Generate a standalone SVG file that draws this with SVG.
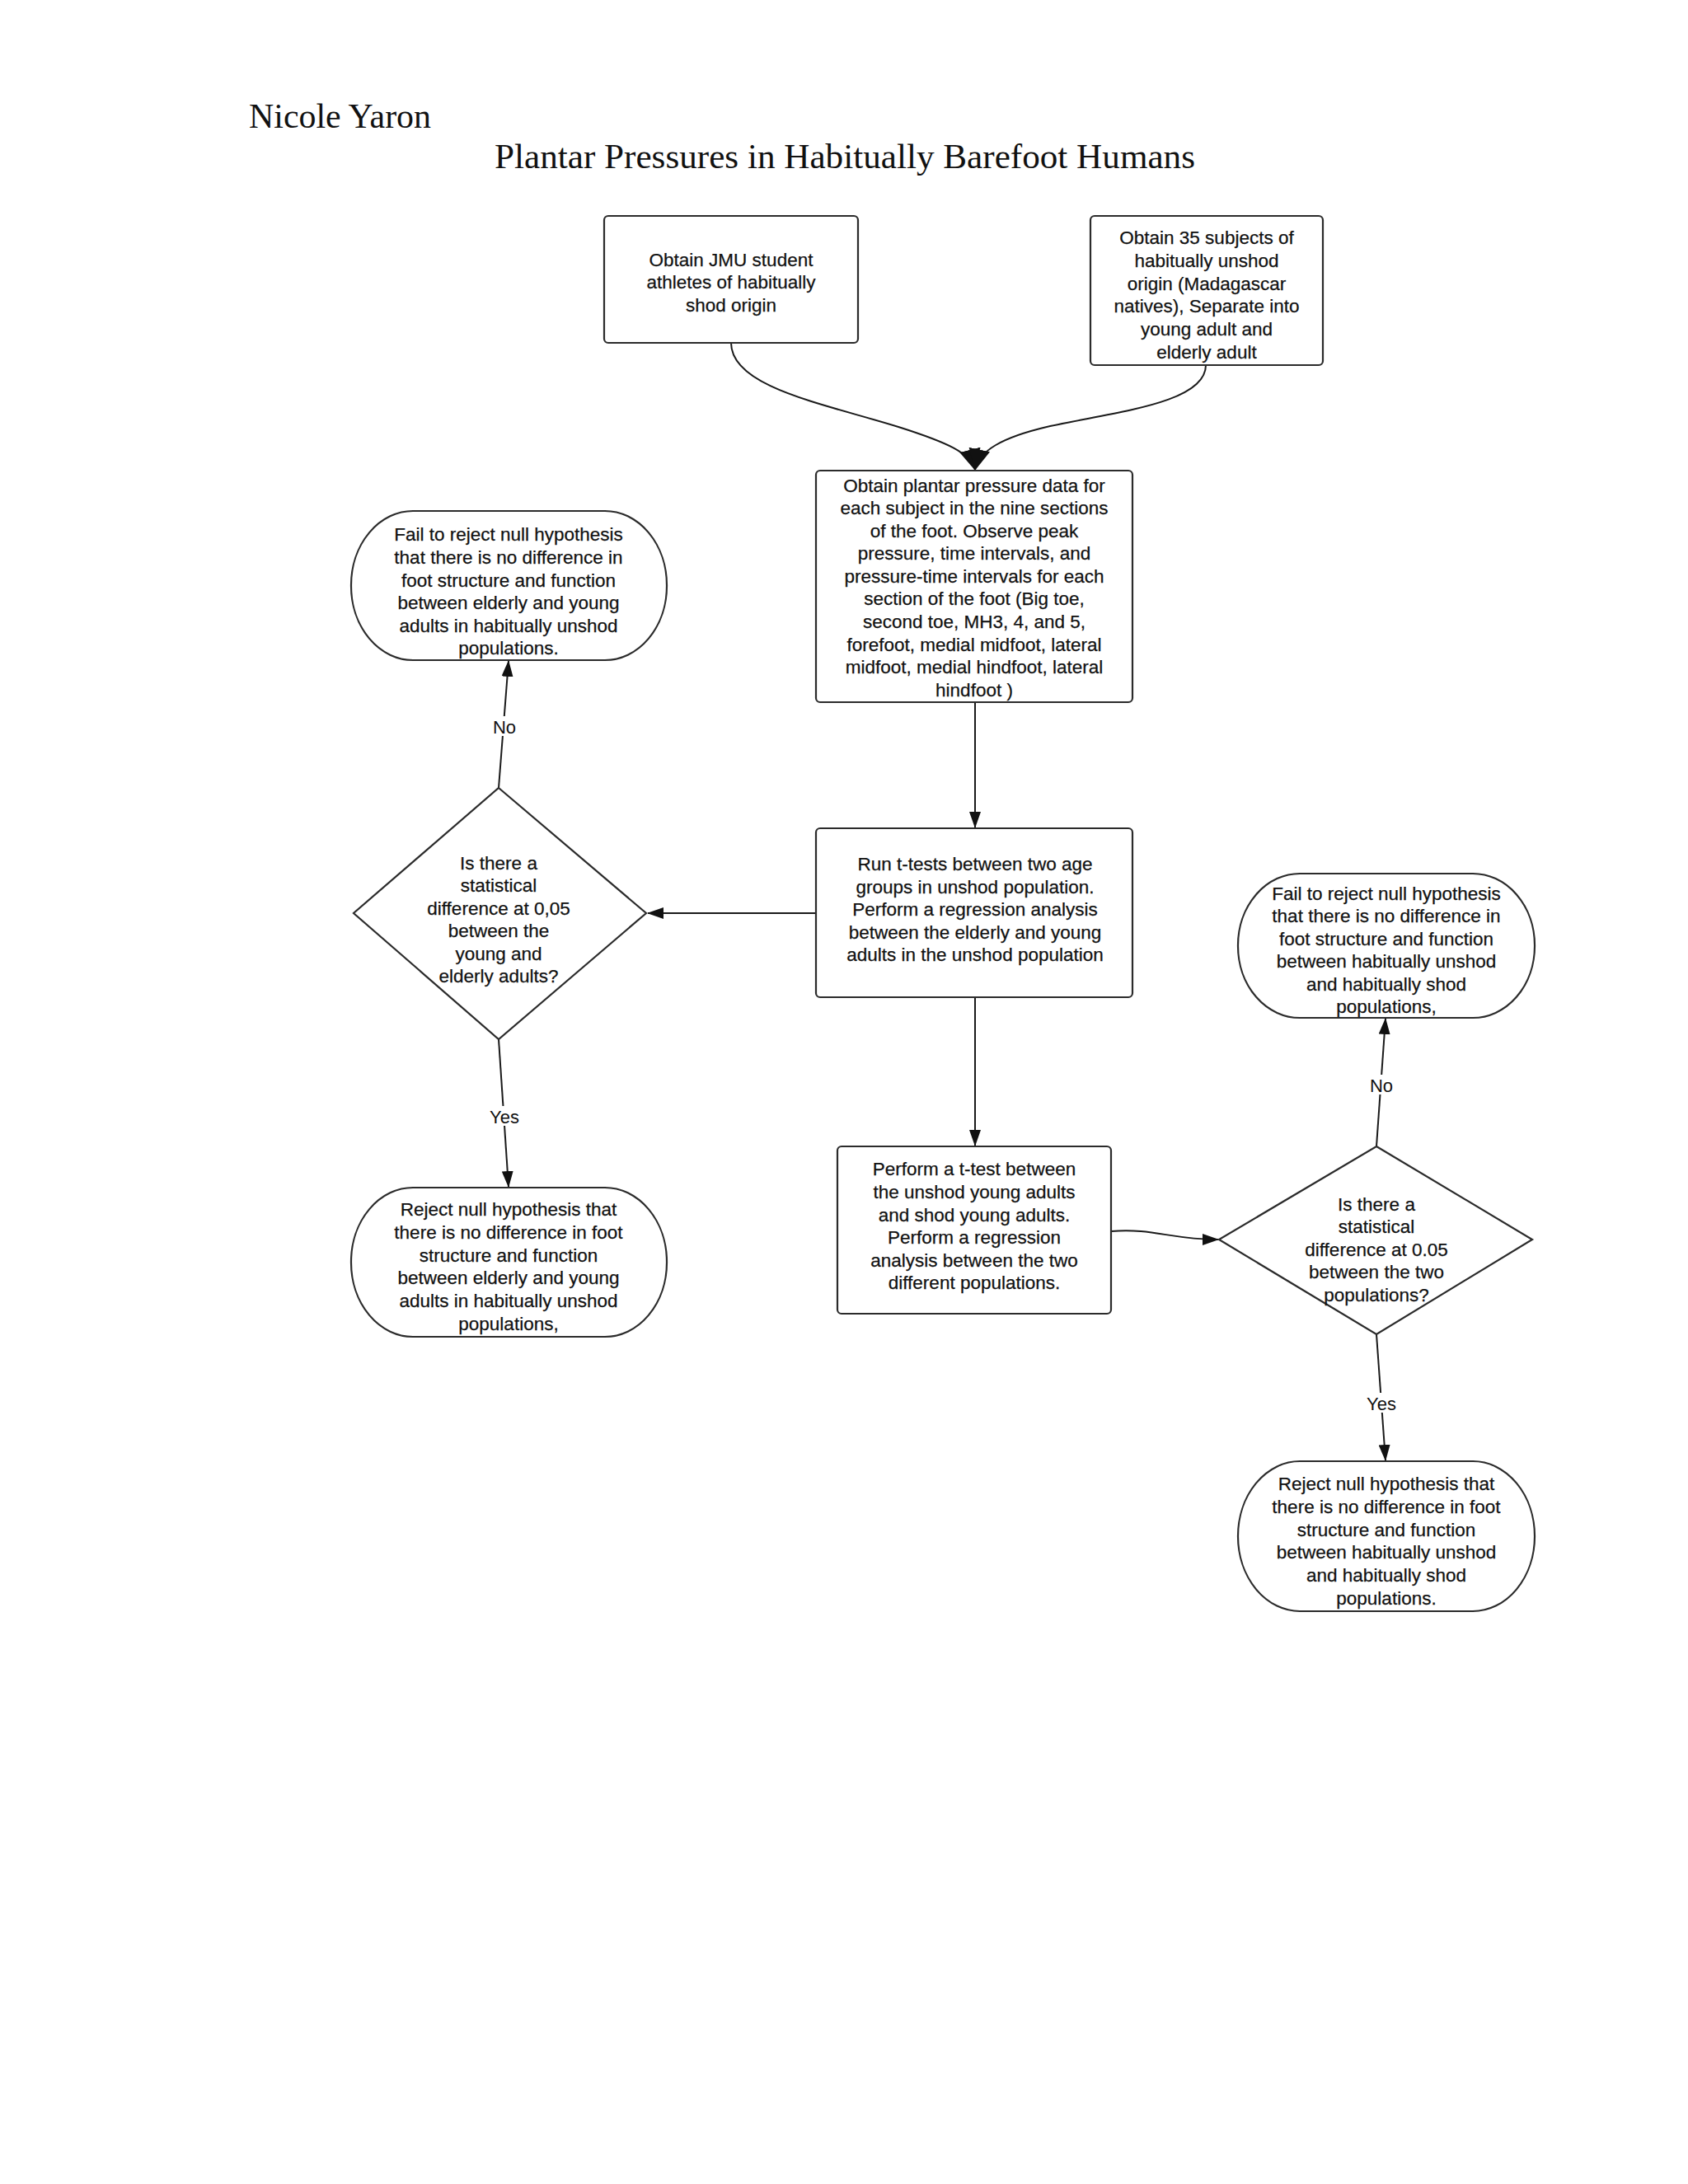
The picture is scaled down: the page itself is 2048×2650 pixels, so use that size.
<svg xmlns="http://www.w3.org/2000/svg" width="2048" height="2650" viewBox="0 0 2048 2650">
<style>
.bg{fill:#ffffff}
.box{fill:#ffffff;stroke:#2b2b2b;stroke-width:2.2}
.con{fill:none;stroke:#1a1a1a;stroke-width:2}
.t{font-family:"Liberation Sans",Arial,sans-serif;font-size:22.5px;fill:#111;stroke:#111;stroke-width:0.25;text-anchor:middle}
.lbl{font-family:"Liberation Sans",Arial,sans-serif;font-size:22px;fill:#111;text-anchor:middle}
.hd{font-family:"Liberation Serif","Times New Roman",serif;font-size:42px;fill:#111}
.lb{fill:#ffffff}
</style>
<defs>
<marker id="arr" viewBox="0 0 20 14" refX="19" refY="7" markerWidth="20" markerHeight="14" markerUnits="userSpaceOnUse" orient="auto">
<path d="M0,0 L20,7 L0,14 Z" fill="#111"/>
</marker>
<marker id="arrBig" viewBox="0 0 26 26" refX="25" refY="13" markerWidth="26" markerHeight="26" markerUnits="userSpaceOnUse" orient="auto">
<path d="M0,0 L26,13 L0,26 Z" fill="#111"/>
</marker>
</defs>
<rect class="bg" x="0" y="0" width="2048" height="2650"/>

<g id="header">
<text class="hd" x="302" y="155" textLength="221" lengthAdjust="spacingAndGlyphs">Nicole Yaron</text>
<text class="hd" x="600" y="204" textLength="850" lengthAdjust="spacingAndGlyphs">Plantar Pressures in Habitually Barefoot Humans</text>
</g>

<g id="connectors">
<path class="con" d="M887,416 C887,470 1000,490 1090,518 C1150,537 1178,550 1183,570" marker-end="url(#arrBig)"/>
<path class="con" d="M1463,443 C1463,490 1350,500 1270,518 C1215,531 1188,547 1183,570" marker-end="url(#arrBig)"/>
<path class="con" d="M1183,852 L1183,1004" marker-end="url(#arr)"/>
<path class="con" d="M990,1108 L786,1108" marker-end="url(#arr)"/>
<path class="con" d="M605,956 L617,802" marker-end="url(#arr)"/>
<path class="con" d="M605,1261 L617,1440" marker-end="url(#arr)"/>
<path class="con" d="M1183,1210 L1183,1390" marker-end="url(#arr)"/>
<path class="con" d="M1348,1494 C1400,1490 1420,1504 1478,1504" marker-end="url(#arr)"/>
<path class="con" d="M1670,1391 L1681,1236" marker-end="url(#arr)"/>
<path class="con" d="M1670,1619 L1681,1772" marker-end="url(#arr)"/>
<rect class="lb" x="596" y="869" width="32" height="24"/>
<text class="lbl" x="612" y="890">No</text>
<rect class="lb" x="591" y="1342" width="42" height="24"/>
<text class="lbl" x="612" y="1363">Yes</text>
<rect class="lb" x="1660" y="1304" width="32" height="24"/>
<text class="lbl" x="1676" y="1325">No</text>
<rect class="lb" x="1655" y="1690" width="42" height="24"/>
<text class="lbl" x="1676" y="1711">Yes</text>
</g>

<g id="n_shod">
<rect class="box" x="733" y="262" width="308" height="154" rx="5"/>
<text class="t" x="887" y="323">Obtain JMU student</text>
<text class="t" x="887" y="350">athletes of habitually</text>
<text class="t" x="887" y="378">shod origin</text>
</g>

<g id="n_unshod">
<rect class="box" x="1323" y="262" width="282" height="181" rx="5"/>
<text class="t" x="1464" y="296">Obtain 35 subjects of</text>
<text class="t" x="1464" y="324">habitually unshod</text>
<text class="t" x="1464" y="352">origin (Madagascar</text>
<text class="t" x="1464" y="379">natives), Separate into</text>
<text class="t" x="1464" y="407">young adult and</text>
<text class="t" x="1464" y="435">elderly adult</text>
</g>

<g id="n_data">
<rect class="box" x="990" y="571" width="384" height="281" rx="5"/>
<text class="t" x="1182" y="597">Obtain plantar pressure data for</text>
<text class="t" x="1182" y="624">each subject in the nine sections</text>
<text class="t" x="1182" y="652">of the foot. Observe peak</text>
<text class="t" x="1182" y="679">pressure, time intervals, and</text>
<text class="t" x="1182" y="707">pressure-time intervals for each</text>
<text class="t" x="1182" y="734">section of the foot (Big toe,</text>
<text class="t" x="1182" y="762">second toe, MH3, 4, and 5,</text>
<text class="t" x="1182" y="790">forefoot, medial midfoot, lateral</text>
<text class="t" x="1182" y="817">midfoot, medial hindfoot, lateral</text>
<text class="t" x="1182" y="845">hindfoot )</text>
</g>

<g id="n_fail1">
<rect class="box" x="426" y="620" width="383" height="181" rx="75" ry="90"/>
<text class="t" x="617" y="656">Fail to reject null hypothesis</text>
<text class="t" x="617" y="684">that there is no difference in</text>
<text class="t" x="617" y="712">foot structure and function</text>
<text class="t" x="617" y="739">between elderly and young</text>
<text class="t" x="617" y="767">adults in habitually unshod</text>
<text class="t" x="617" y="794">populations.</text>
</g>

<g id="n_dec1">
<path class="box" d="M605,956 L784,1108 L605,1261 L429,1108 Z"/>
<text class="t" x="605" y="1055">Is there a</text>
<text class="t" x="605" y="1082">statistical</text>
<text class="t" x="605" y="1110">difference at 0,05</text>
<text class="t" x="605" y="1137">between the</text>
<text class="t" x="605" y="1165">young and</text>
<text class="t" x="605" y="1192">elderly adults?</text>
</g>

<g id="n_ttest">
<rect class="box" x="990" y="1005" width="384" height="205" rx="5"/>
<text class="t" x="1183" y="1056">Run t-tests between two age</text>
<text class="t" x="1183" y="1084">groups in unshod population.</text>
<text class="t" x="1183" y="1111">Perform a regression analysis</text>
<text class="t" x="1183" y="1139">between the elderly and young</text>
<text class="t" x="1183" y="1166">adults in the unshod population</text>
</g>

<g id="n_reject1">
<rect class="box" x="426" y="1441" width="383" height="181" rx="75" ry="90"/>
<text class="t" x="617" y="1475">Reject null hypothesis that</text>
<text class="t" x="617" y="1503">there is no difference in foot</text>
<text class="t" x="617" y="1531">structure and function</text>
<text class="t" x="617" y="1558">between elderly and young</text>
<text class="t" x="617" y="1586">adults in habitually unshod</text>
<text class="t" x="617" y="1614">populations,</text>
</g>

<g id="n_compare">
<rect class="box" x="1016" y="1391" width="332" height="203" rx="5"/>
<text class="t" x="1182" y="1426">Perform a t-test between</text>
<text class="t" x="1182" y="1454">the unshod young adults</text>
<text class="t" x="1182" y="1482">and shod young adults.</text>
<text class="t" x="1182" y="1509">Perform a regression</text>
<text class="t" x="1182" y="1537">analysis between the two</text>
<text class="t" x="1182" y="1564">different populations.</text>
</g>

<g id="n_fail2">
<rect class="box" x="1502" y="1060" width="360" height="175" rx="75" ry="87"/>
<text class="t" x="1682" y="1092">Fail to reject null hypothesis</text>
<text class="t" x="1682" y="1119">that there is no difference in</text>
<text class="t" x="1682" y="1147">foot structure and function</text>
<text class="t" x="1682" y="1174">between habitually unshod</text>
<text class="t" x="1682" y="1202">and habitually shod</text>
<text class="t" x="1682" y="1229">populations,</text>
</g>

<g id="n_dec2">
<path class="box" d="M1670,1391 L1859,1504 L1670,1619 L1479,1504 Z"/>
<text class="t" x="1670" y="1469">Is there a</text>
<text class="t" x="1670" y="1496">statistical</text>
<text class="t" x="1670" y="1524">difference at 0.05</text>
<text class="t" x="1670" y="1551">between the two</text>
<text class="t" x="1670" y="1579">populations?</text>
</g>

<g id="n_reject2">
<rect class="box" x="1502" y="1773" width="360" height="182" rx="75" ry="91"/>
<text class="t" x="1682" y="1808">Reject null hypothesis that</text>
<text class="t" x="1682" y="1836">there is no difference in foot</text>
<text class="t" x="1682" y="1864">structure and function</text>
<text class="t" x="1682" y="1891">between habitually unshod</text>
<text class="t" x="1682" y="1919">and habitually shod</text>
<text class="t" x="1682" y="1947">populations.</text>
</g>
</svg>
